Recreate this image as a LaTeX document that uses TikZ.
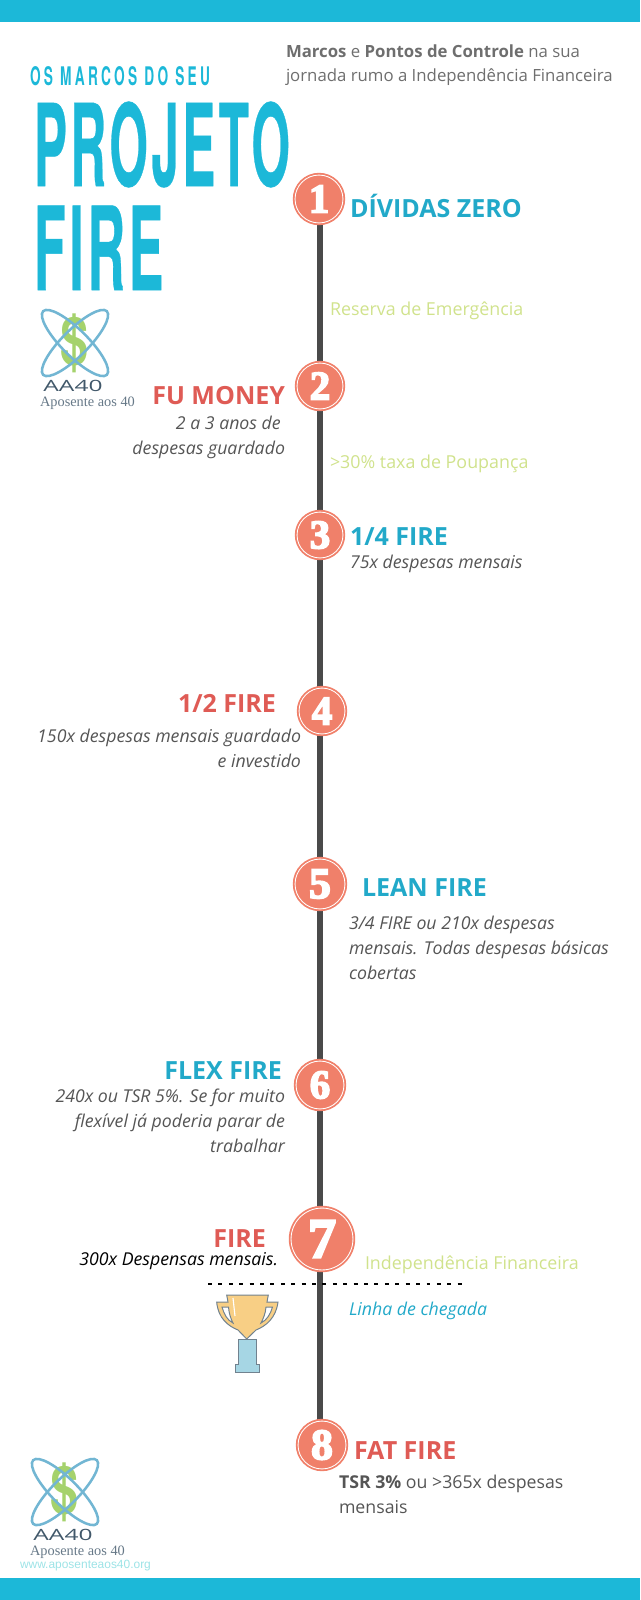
\documentclass[tikz,border=0pt]{standalone}
\usepackage{fontspec}
\setmainfont{Open Sans}
\newfontfamily\titlefont[FakeBold=.5,LetterSpace=7]{TeX Gyre Heros Bold}
\newfontfamily\smalltitlefont[LetterSpace=24]{TeX Gyre Heros Bold}
\newfontfamily\digitfont[FakeBold=4]{Liberation Serif Bold}
\newfontfamily\logofont{Liberation Serif}
\newfontfamily\webfont{Liberation Sans}

\definecolor{barblue}{HTML}{1CB8D8}
\definecolor{headblue}{HTML}{22A9C9}
\definecolor{headred}{HTML}{DF5B55}
\definecolor{salmon}{HTML}{F0806A}
\definecolor{palegreen}{HTML}{D0E28C}
\definecolor{bodygrey}{HTML}{555555}
\definecolor{introgrey}{HTML}{6E6E6E}
\definecolor{linegrey}{HTML}{4A4A4A}
\definecolor{ringblue}{HTML}{72B6D3}
\definecolor{dollargreen}{HTML}{A5D26C}
\definecolor{logoslate}{HTML}{41586A}
\definecolor{webcyan}{HTML}{9CE3E6}
\definecolor{cupgold}{HTML}{F8CF85}
\definecolor{cupbase}{HTML}{A6D6E4}

\tikzset{
    every node/.style={inner sep=0pt, outer sep=0pt},
    head/.style={font=\fontsize{17.8}{18}\selectfont\bfseries},
    milestone/.style={circle, draw=salmon, fill=salmon, double=white, double distance=.6pt, line width=1.3pt, text=white},
    bodytext/.style={font=\fontsize{12.6}{17.7}\selectfont\itshape, text=bodygrey},
    hint/.style={font=\fontsize{12.7}{13}\selectfont, text=palegreen},
    logomark/.style={text=logoslate, font=\selectfont},
    pics/logoaa/.style={code={
        \node[text=dollargreen] (-dollar) at (0,0) {\resizebox*{20pt}{42pt}{\smalltitlefont\$}};
        \draw[ringblue, line width=1.8pt, rotate=45] (0,0) ellipse (45 and 13);
        \draw[ringblue, line width=1.8pt, rotate=-45] (0,0) ellipse (45 and 13);
        \node[logomark] (-mark) at (-2,43) {\resizebox{42pt}{8pt}{AA40}};
        \node[font=\fontsize{10.2}{10}\selectfont\logofont, text=logoslate!80] (-name) at (12.5,60) {Aposente aos 40};
    }}
}

\begin{document}
\begin{tikzpicture}[x=.025cm, y=-.025cm]
    \useasboundingbox (0,0) rectangle (640,1600);

    \fill[barblue] (0,0) rectangle (640,22);
    \fill[barblue] (0,1578) rectangle (640,1600);

    \node[anchor=base west, text=barblue] (subtitle) at (30,85)
        {\resizebox{128pt}{13.5pt}{\smalltitlefont OS MARCOS DO SEU}};
    \node[anchor=base west, text=barblue] (title) at (34,186)
        {\resizebox{182pt}{60pt}{\titlefont PROJETO}};
    \node[anchor=base west, text=barblue] (fire) at (34,290)
        {\resizebox{92pt}{60pt}{\titlefont FIRE}};

    \node[anchor=west, align=left, text=introgrey, font=\fontsize{11.93}{17.4}\selectfont] (intro) at (286,65)
        {\textbf{Marcos} e \textbf{Pontos de Controle} na sua\\jornada rumo a Independência Financeira};

    \coordinate (linetop) at (320,199);
    \coordinate (linebottom) at (320,1445);
    \coordinate (dashleft) at (208,1284);
    \coordinate (dashright) at (463,1284);

    \draw[linegrey, line width=3.8pt] (linetop) -- (linebottom);

    \foreach \n/\x/\y/\r/\s in {1/319/199/25/29, 2/320/386/24/29, 3/320/535/24/29, 4/322/711/24/29,
            5/320/884/26/31, 6/320/1085/25/29, 7/322/1239/32/40, 8/322/1445/25/31}
        \node[milestone, minimum size=\r*.05cm-1.5pt] (m\n) at (\x,\y) {\fontsize{\s}{\s}\digitfont\n};

    \draw[black, line width=1.3pt, dash pattern=on 2.8pt off 4.6pt] (dashleft) -- (dashright);

    \node[head, anchor=west, text=headblue] (dividas) at (350,206) {DÍVIDAS ZERO};
    \node[hint, anchor=west] (reserva) at (330,311) {Reserva de Emergência};

    \node[head, anchor=east, text=headred] (fumoney) at (285,396) {FU MONEY};
    \node[bodytext, anchor=north east, align=right] (fubody) at (285,416) {2 a 3 anos de\hspace*{3pt}\\despesas guardado};
    \node[hint, anchor=west] (poupanca) at (330,464) {>30\% taxa de Poupança};

    \node[head, anchor=west, text=headblue] (quarter) at (350,537) {1/4 FIRE};
    \node[bodytext, anchor=west] (quarterbody) at (350,564) {75x despesas mensais};

    \node[head, anchor=east, text=headred] (half) at (276,703) {1/2 FIRE};
    \node[bodytext, anchor=north east, align=right] (halfbody) at (301,729) {150x despesas mensais guardado\\e investido};

    \node[head, anchor=west, text=headblue] (lean) at (362,888) {LEAN FIRE};
    \node[bodytext, anchor=north west, align=left] (leanbody) at (349,916) {3/4 FIRE ou 210x despesas\\mensais. Todas despesas básicas\\cobertas};

    \node[head, anchor=east, text=headblue] (flex) at (282,1071) {FLEX FIRE};
    \node[bodytext, anchor=north east, align=right] (flexbody) at (285,1089) {240x ou TSR 5\%. Se for muito\\flexível já poderia parar de\\trabalhar};

    \node[head, anchor=east, text=headred] (firefull) at (266,1239) {FIRE};
    \node[bodytext, anchor=east, text=black] (firebody) at (278,1261) {300x Despensas mensais.};
    \node[hint, anchor=west] (indep) at (365,1265) {Independência Financeira};
    \node[bodytext, anchor=west, text=headblue] (chegada) at (349,1311) {Linha de chegada};

    \node[head, anchor=west, text=headred] (fat) at (354,1451) {FAT FIRE};
    \node[anchor=north west, align=left, text=bodygrey, font=\fontsize{12.6}{17.7}\selectfont] (fatbody) at (339,1475) {\textbf{TSR 3\%} ou >365x despesas\\mensais};

    \draw[fill=cupbase, draw=logoslate!75, line width=.7pt]
        (238.3,1339) -- (256.7,1339) -- (256.7,1364) -- (259.3,1364) -- (259.3,1372)
        -- (235.7,1372) -- (235.7,1364) -- (238.3,1364) -- cycle;
    \draw[fill=cupgold, draw=logoslate!75, line width=.7pt, even odd rule]
        (228,1302) -- (216.7,1302) .. controls (218,1318) and (228,1326) .. (238,1330)
        -- (246.7,1339) -- (256,1330) .. controls (266,1326) and (276,1318) .. (278,1302)
        -- (267,1302) -- (268.3,1295) -- (226.7,1295) -- cycle
        (222,1307) -- (228.5,1307) .. controls (229,1314) and (231,1319) .. (233,1323) .. controls (227,1320) and (224,1314) .. (222,1307) -- cycle
        (272.5,1307) -- (266,1307) .. controls (265.5,1314) and (263,1319) .. (261,1323) .. controls (267,1320) and (270.5,1314) .. (272.5,1307) -- cycle;
    \draw[white, line width=.8pt] (233,1298) -- (235,1316);

    \pic (logoa) at (75,343) {logoaa};
    \pic (logob) at (65,1492) {logoaa};
    \node[font=\fontsize{8.5}{9}\selectfont\webfont, text=webcyan, anchor=west] (website) at (20,1566) {www.aposenteaos40.org};
\end{tikzpicture}
\end{document}
